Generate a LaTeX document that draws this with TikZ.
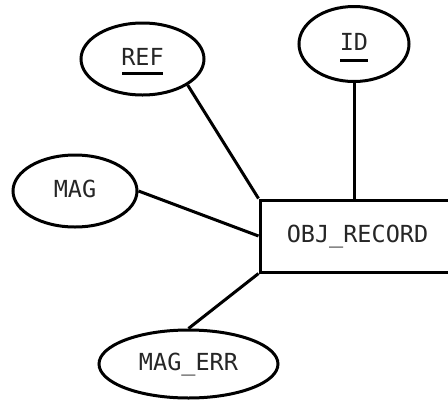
\documentclass[tikz,border=0pt]{standalone}
\usepackage{fontspec}
\newfontfamily\dvm{DejaVu Sans Mono}
\usetikzlibrary{shapes.geometric}
\tikzset{
  lbl/.style={font=\dvm\fontsize{23.5}{28}\selectfont, text height=17pt, text depth=4pt, text=black!85, inner sep=0pt},
  attr/.style={ellipse, draw, line width=3pt, lbl},
  entity/.style={rectangle, draw, line width=3pt, lbl},
  conn/.style={line width=3pt},
  ul/.style={line width=3pt}
}
\begin{document}
\begin{tikzpicture}[x=1pt,y=-1pt]
\useasboundingbox[fill=white] (0,0) rectangle (448,400);
\clip (0,0) rectangle (448,400);
\node[attr, minimum width=123pt, minimum height=72pt] (ref) at (142.5,59) {REF};
\node[attr, minimum width=110pt, minimum height=75pt] (id) at (354,44) {ID};
\node[attr, minimum width=124pt, minimum height=72pt] (mag) at (75,191) {MAG};
\node[attr, minimum width=179pt, minimum height=68pt] (magerr) at (188.5,364) {MAG\_ERR};
\node[entity, minimum width=195pt, minimum height=72pt] (obj) at (357.5,236) {OBJ\_RECORD};
\draw[ul] ([xshift=-20.5pt,yshift=-14pt]ref.center) -- ([xshift=20.5pt,yshift=-14pt]ref.center);
\draw[ul] ([xshift=-14pt,yshift=-16pt]id.center) -- ([xshift=14pt,yshift=-16pt]id.center);
\draw[conn] (ref.-30) -- (obj.north west);
\draw[conn] (id.south) -- (id.south |- obj.north);
\draw[conn] (mag.east) -- (obj.west);
\draw[conn] (obj.south west) -- (magerr.north);
\end{tikzpicture}
\end{document}
